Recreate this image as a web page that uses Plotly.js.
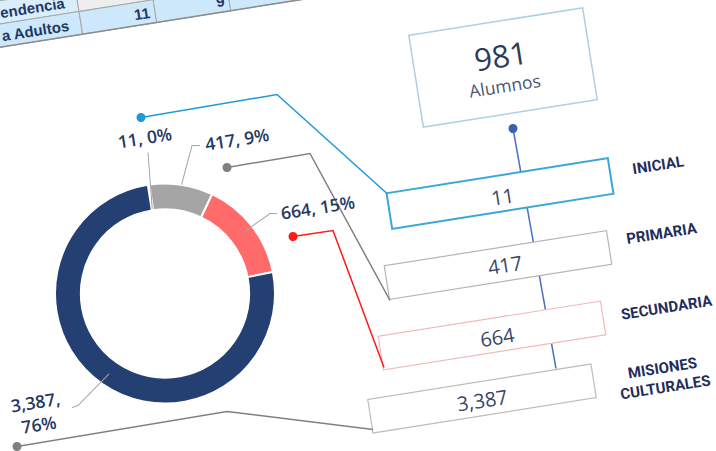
<!DOCTYPE html>
<html><head><meta charset="utf-8">
<script src="https://cdn.plot.ly/plotly-3.0.1.min.js"></script>
<style>
html,body{margin:0;padding:0;width:716px;height:451px;overflow:hidden;background:#fff;}
#wrap{position:absolute;left:-52px;top:-74.5px;width:820px;height:600px;transform:rotate(-9deg);transform-origin:50% 50%;}
</style></head><body><div id="wrap"><div id="chart"></div></div>
<script>
// ---- data ----
const levels = ["INICIAL", "PRIMARIA", "SECUNDARIA", "MISIONES<br>CULTURALES"];
const students = [11, 417, 664, 3387];
const totalAlumnos = 981;
const totalLabel = "Alumnos";
const tableRowLabels = ["endencia", "a Adultos"];
const tableCol2 = ["", "11"];
const tableCol3 = ["", "9"];

// ---- geometry helpers (reference screen px -> unrotated local px -> paper) ----
const W = 820, H = 600, VX = 358, VY = 225.5;
const ang = 9 * Math.PI / 180, c = Math.cos(ang), s = Math.sin(ang);
function L(X, Y) { const dx = X - VX, dy = Y - VY; return [W / 2 + dx * c - dy * s, H / 2 + dx * s + dy * c]; }
function px(x) { return x / W; }
function py(y) { return 1 - y / H; }

const sliceColors = ["#45A6DA", "#A5A5A5", "#FF6B6B", "#243F72"];
const lineColors = ["#1E9AD6", "#808080", "#FF1A1A", "#808080"];
const boxBorders = ["#3BA7D9", "#B5B5B5", "#F2B9B9", "#BDBDBD"];
const boxWidths = [2, 1.2, 1.2, 1.2];

const total = students.reduce((a, b) => a + b, 0);
const fmt = v => v.toLocaleString("en-US");

const shapes = [], annotations = [];

// ---- table fragment ----
const tBottom = 67.5, rowH = 23;
const colEdges = [-100, 168, 243, 318, 393, 470];
const cellFill = [["#D8EEFB", "#EEEEEE", "#D0EAFA", "#D0EAFA", "#D0EAFA"],
                  ["#CDE8FA", "#CDE8FA", "#CDE8FA", "#CDE8FA", "#CDE8FA"]];
for (let r = 0; r < 2; r++) {
  const y0 = tBottom - (2 - r) * rowH, y1 = y0 + rowH;
  for (let k = 0; k < colEdges.length - 1; k++) {
    shapes.push({type: "rect", xref: "paper", yref: "paper",
      x0: px(colEdges[k]), x1: px(colEdges[k + 1]), y0: py(y0), y1: py(y1),
      fillcolor: cellFill[r][k], line: {color: "#A6A6A6", width: 1}});
  }
  annotations.push({xref: "paper", yref: "paper", x: px(158), y: py((y0 + y1) / 2), text: tableRowLabels[r],
    showarrow: false, xanchor: "right", yanchor: "middle",
    font: {family: "Liberation Sans", size: 15, color: "#1F3864", weight: 600}});
  [tableCol2[r], tableCol3[r]].forEach((t, k) => {
    if (!t) return;
    annotations.push({xref: "paper", yref: "paper", x: px(colEdges[k + 2] - 3), y: py((y0 + y1) / 2), text: t,
      showarrow: false, xanchor: "right", yanchor: "middle",
      font: {family: "Liberation Sans", size: 15, color: "#1F3864", weight: 600}});
  });
}
shapes.push({type: "line", xref: "paper", yref: "paper", x0: px(-100), x1: px(470), y0: py(tBottom), y1: py(tBottom),
  line: {color: "#8C8C8C", width: 1.5}});

// ---- vertical connector + dot under total box ----
const dotTop = L(513, 128), lineEnd = L(556, 368);
shapes.push({type: "line", xref: "paper", yref: "paper", x0: px(dotTop[0]), y0: py(dotTop[1]), x1: px(lineEnd[0]), y1: py(lineEnd[1]),
  line: {color: "#4A6FC4", width: 1.5}});

// ---- level boxes ----
const boxCenters = [[500, 193], [498, 264.5], [492, 335], [482, 398]];
const boxSizes = [[224, 36], [225, 34], [225, 34], [226, 34]];
const boxTextPos = [[503, 196], [505, 264], [498, 336], [482, 400]];
const levelLabelPos = [[658, 165], [662, 233], [667, 307], [664, 378]];
students.forEach((v, i) => {
  const cc = L(...boxCenters[i]), w = boxSizes[i][0], h = boxSizes[i][1];
  shapes.push({type: "rect", xref: "paper", yref: "paper",
    x0: px(cc[0] - w / 2), x1: px(cc[0] + w / 2), y0: py(cc[1] - h / 2), y1: py(cc[1] + h / 2),
    fillcolor: "#FFFFFF", line: {color: boxBorders[i], width: boxWidths[i]}});
  const tp = L(...boxTextPos[i]);
  annotations.push({xref: "paper", yref: "paper", x: px(tp[0]), y: py(tp[1]), text: fmt(v), showarrow: false,
    xanchor: "center", yanchor: "middle", font: {family: "Open Sans", size: 20, color: "#3A4766"}});
  const lp = L(...levelLabelPos[i]);
  annotations.push({xref: "paper", yref: "paper", x: px(lp[0]), y: py(lp[1]), text: levels[i], showarrow: false,
    xanchor: "center", yanchor: "middle", align: "center",
    font: {family: "Roboto", size: 15, color: "#1F2D5A", weight: 700}});
});

// ---- total box ----
const tc = L(503, 67);
shapes.push({type: "rect", xref: "paper", yref: "paper",
  x0: px(tc[0] - 88), x1: px(tc[0] + 88), y0: py(tc[1] - 46.5), y1: py(tc[1] + 46.5),
  fillcolor: "#FFFFFF", line: {color: "#AECFE2", width: 1.5}});
const t1 = L(501, 55), t2 = L(505, 85);
annotations.push({xref: "paper", yref: "paper", x: px(t1[0]), y: py(t1[1]), text: String(totalAlumnos), showarrow: false,
  xanchor: "center", yanchor: "middle", font: {family: "Open Sans", size: 31, color: "#2E3A5A"}});
annotations.push({xref: "paper", yref: "paper", x: px(t2[0]), y: py(t2[1]), text: totalLabel, showarrow: false,
  xanchor: "center", yanchor: "middle", font: {family: "Open Sans", size: 17.5, color: "#4A5572"}});
const dotR = 4.5;
shapes.push({type: "circle", xref: "paper", yref: "paper",
  x0: px(dotTop[0] - dotR), x1: px(dotTop[0] + dotR), y0: py(dotTop[1] - dotR), y1: py(dotTop[1] + dotR),
  fillcolor: "#3D5FB0", line: {width: 0}});

// ---- coloured callout connectors ----
const callouts = [
  [[141, 117], [277, 94], [387, 193]],
  [[227, 167], [310, 153], [390, 300]],
  [[293, 236], [333, 230], [384, 367]],
  [[17, 446], [227, 411], [373, 429]]
];
callouts.forEach((pts, i) => {
  const lp = pts.map(p => L(...p));
  const path = lp.map((p, k) => (k ? "L" : "M") + px(p[0]) + "," + py(p[1])).join(" ");
  shapes.push({type: "path", xref: "paper", yref: "paper", path: path, line: {color: lineColors[i], width: 1.5}});
  const d = lp[0];
  shapes.push({type: "circle", xref: "paper", yref: "paper",
    x0: px(d[0] - dotR), x1: px(d[0] + dotR), y0: py(d[1] - dotR), y1: py(d[1] + dotR),
    fillcolor: lineColors[i], line: {width: 0}});
});

// ---- donut ----
const pc = L(165, 293), R = 110;
const donut = {
  type: "pie", values: students, labels: levels, sort: false, direction: "clockwise", rotation: 0,
  hole: 0.765, textinfo: "none", hoverinfo: "skip",
  marker: {colors: sliceColors, line: {color: "#FFFFFF", width: 2}},
  domain: {x: [px(pc[0] - R), px(pc[0] + R)], y: [py(pc[1] + R), py(pc[1] - R)]}
};

// donut data labels with leader lines (tip at slice mid-angle)
const labelPos = [[145, 137], [237, 138], [318, 207], [37, 413]];
const leaderStart = [[[148, 152]], [[200, 145], [192, 145]], [[277, 213], [270, 213]], [[72, 407], [78, 405]]];
const tipR = [0.78, 1.0, 0.9, 0.89];
let cum = 0;
students.forEach((v, i) => {
  const mid = (cum + v / 2) / total * 2 * Math.PI; cum += v;
  const tip = [pc[0] + Math.sin(mid) * R * tipR[i], pc[1] - Math.cos(mid) * R * tipR[i]];
  const pts = leaderStart[i].map(p => L(...p)).concat([tip]);
  const path = pts.map((p, k) => (k ? "L" : "M") + px(p[0]) + "," + py(p[1])).join(" ");
  shapes.push({type: "path", xref: "paper", yref: "paper", path: path, line: {color: "#A6A6A6", width: 1}});
  const pct = Math.round(v / total * 100);
  const txt = i === 3 ? fmt(v) + ",<br>" + pct + "%" : fmt(v) + ", " + pct + "%";
  const lp = L(...labelPos[i]);
  annotations.push({xref: "paper", yref: "paper", x: px(lp[0]), y: py(lp[1]), text: txt, showarrow: false,
    xanchor: "center", yanchor: "middle", align: "center",
    font: {family: "Open Sans", size: 17.5, color: "#1F3864", weight: 600}});
});

const layout = {
  width: W, height: H, margin: {l: 0, r: 0, t: 0, b: 0},
  paper_bgcolor: "#FFFFFF", plot_bgcolor: "#FFFFFF", showlegend: false,
  shapes: shapes, annotations: annotations
};
Plotly.newPlot("chart", [donut], layout, {displayModeBar: false, staticPlot: true});
</script></body></html>
